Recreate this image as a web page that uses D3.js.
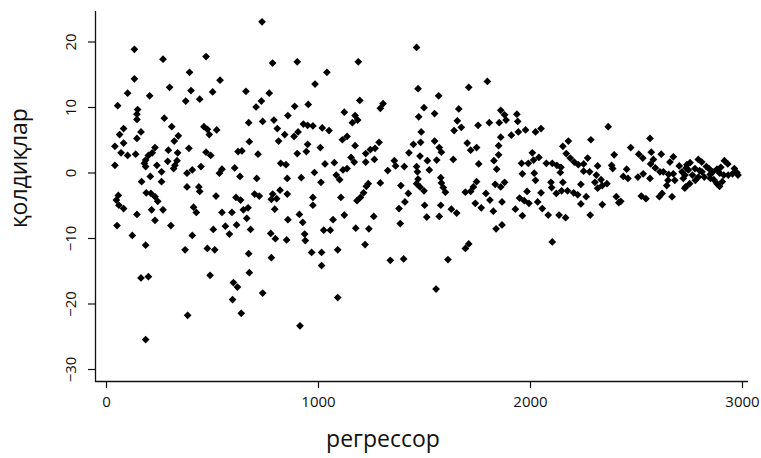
<!DOCTYPE html>
<html>
<head>
<meta charset="utf-8">
<script src="https://cdn.jsdelivr.net/npm/d3@7"></script>
<style>
  body { margin: 0; background: #fff; }
  text { font-family: "Open Sans", sans-serif; fill: #111; }
</style>
</head>
<body>
<div id="chart"></div>
<script>
// [regressor, residual]
var residualPoints = [
  [134,18.8],[269,17.3],[134,14.3],[394,15.3],[300,13.0],[102,12.1],[206,11.7],[401,12.5],[376,10.9],[442,11.2],
  [55,10.2],[149,9.6],[146,8.9],[146,8.1],[275,8.3],[83,6.7],[64,5.8],[165,6.2],[310,7.0],[146,5.2],
  [322,4.8],[341,5.6],[42,4.0],[83,4.5],[71,3.0],[102,2.6],[140,2.8],[231,3.8],[218,3.0],[200,2.6],
  [187,1.9],[294,3.4],[338,3.0],[391,3.7],[42,1.1],[181,1.4],[187,0.9],[240,1.1],[262,0.1],[291,1.7],
  [335,1.8],[325,1.1],[319,0.6],[382,-0.1],[407,0.4],[448,0.9],[168,-1.4],[209,-0.6],[262,-1.4],[382,-2.2],
  [438,-2.2],[442,-2.9],[58,-3.5],[49,-4.2],[61,-5.0],[83,-5.5],[190,-3.1],[212,-3.2],[231,-3.7],[244,-4.4],
  [146,-6.4],[215,-5.7],[269,-5.7],[231,-7.3],[52,-8.1],[306,-8.1],[413,-5.3],[426,-6.1],[124,-9.6],[407,-9.6],
  [187,-11.1],[373,-11.8],[165,-16.1],[200,-15.9],[385,-21.8],[187,-25.5],

  [736,23.0],[472,17.7],[786,16.7],[902,16.9],[538,14.1],[503,12.3],[660,12.4],[770,12.1],[708,10.0],[733,10.9],
  [890,10.1],[858,8.7],[673,7.6],[739,7.8],[792,8.0],[462,7.0],[478,6.6],[487,5.8],[522,6.5],[808,6.7],
  [814,4.8],[843,5.8],[887,5.5],[906,6.2],[931,7.4],[676,4.7],[472,3.1],[494,2.6],[623,3.2],[641,3.3],
  [717,2.8],[902,2.9],[535,-0.1],[547,0.5],[607,0.7],[632,-0.6],[711,-0.9],[824,1.4],[849,1.2],[855,-0.9],
  [921,-0.8],[519,-3.6],[613,-3.8],[635,-4.2],[701,-3.3],[723,-3.6],[786,-3.3],[780,-4.1],[805,-4.0],[821,-2.7],
  [855,-3.3],[648,-5.7],[670,-5.4],[547,-6.1],[594,-6.1],[664,-7.0],[563,-8.2],[616,-8.0],[506,-8.7],[582,-9.4],
  [682,-8.7],[796,-5.6],[858,-7.2],[912,-6.4],[928,-7.6],[937,-9.4],[940,-10.4],[777,-9.3],[799,-10.1],[852,-10.3],
  [478,-11.6],[513,-11.8],[673,-12.4],[780,-13.0],[491,-15.7],[676,-15.3],[601,-16.8],[620,-17.5],[597,-19.4],[739,-18.4],
  [638,-21.5],[915,-23.4],

  [1190,16.9],[1042,15.3],[986,13.5],[954,10.4],[1197,11.0],[1307,10.5],[1294,9.8],[1124,9.2],[1175,8.7],[1187,8.0],
  [1162,7.6],[951,7.2],[976,7.1],[1020,6.8],[1052,6.4],[951,4.3],[945,3.2],[1011,3.8],[1115,5.0],[1137,5.5],
  [1175,4.1],[1225,2.9],[1247,3.5],[1269,3.7],[1266,2.0],[1288,4.6],[1156,2.3],[1171,1.6],[1033,1.3],[1077,1.5],
  [1118,0.4],[1137,0.6],[983,0.0],[1086,-0.4],[1102,-1.1],[1014,-1.5],[1225,1.6],[1329,0.3],[1360,1.8],[1366,1.0],
  [1407,0.9],[1429,3.0],[1237,-1.7],[1294,-1.6],[1391,-2.0],[1426,-3.2],[1228,-2.1],[1215,-3.1],[1200,-3.8],[1184,-4.3],
  [976,-3.8],[976,-5.0],[1108,-3.8],[1410,-4.5],[1382,-5.5],[1124,-6.5],[1263,-6.7],[1071,-7.2],[1388,-7.8],[1027,-8.8],
  [1058,-8.8],[1178,-8.5],[1240,-8.6],[1222,-11.0],[970,-12.2],[1017,-12.2],[1093,-11.8],[1017,-14.2],[1341,-13.4],[1404,-13.2],
  [1093,-19.1],

  [1465,19.1],[1472,12.8],[1569,11.7],[1711,13.0],[1799,13.9],[1500,9.9],[1475,8.5],[1550,9.0],[1664,9.7],[1657,7.9],
  [1642,6.4],[1676,6.9],[1755,7.2],[1808,7.6],[1862,9.5],[1880,8.8],[1887,8.0],[1855,7.6],[1912,5.7],[1487,6.2],
  [1484,4.6],[1450,4.3],[1550,4.8],[1572,3.8],[1582,3.1],[1481,2.5],[1516,1.8],[1560,1.9],[1638,2.0],[1704,4.5],
  [1720,3.4],[1748,3.8],[1758,1.3],[1862,5.4],[1852,4.1],[1852,2.7],[1830,1.8],[1843,0.5],[1465,0.9],[1469,0.1],
  [1472,-1.0],[1465,-1.7],[1525,0.4],[1481,-2.2],[1500,-2.8],[1579,-0.8],[1582,-1.6],[1591,-2.3],[1601,-3.0],[1748,-1.4],
  [1733,-2.2],[1695,-3.0],[1720,-2.9],[1836,-1.8],[1862,-2.2],[1880,-1.5],[1792,-3.2],[1503,-5.0],[1579,-5.0],[1629,-5.6],
  [1654,-6.2],[1742,-4.7],[1770,-5.4],[1811,-4.2],[1827,-5.9],[1868,-4.5],[1513,-6.8],[1572,-6.7],[1931,-5.6],[1840,-8.6],
  [1868,-8.0],[1695,-11.6],[1711,-10.9],[1613,-13.3],[1557,-17.8],

  [1938,8.9],[1942,7.8],[1945,6.2],[1979,6.5],[2026,6.2],[2052,6.7],[2369,7.0],[2155,4.0],[2181,4.8],[2287,5.0],
  [2171,2.9],[2190,2.2],[2209,1.6],[2228,1.2],[2253,1.3],[2272,2.2],[2319,1.0],[2397,2.7],[2385,1.1],[2011,3.0],
  [1960,1.4],[1992,1.4],[2017,1.9],[2042,2.3],[2077,1.4],[2105,1.4],[2127,1.1],[2146,0.8],[2143,0.0],[1964,-0.2],
  [2020,-0.1],[2026,-1.2],[2099,-1.5],[2102,-2.3],[2155,-1.5],[2253,0.2],[2281,0.1],[2240,-1.8],[1986,-2.9],[2052,-3.1],
  [1951,-3.9],[1973,-4.3],[1995,-4.7],[2036,-4.5],[2124,-3.2],[2149,-2.8],[2177,-2.8],[2206,-3.1],[2225,-3.4],[2265,-3.7],
  [2240,-4.8],[2313,-0.4],[2335,-1.1],[2306,-1.5],[2341,-2.0],[2363,-1.7],[2319,-2.4],[2341,-4.9],[2407,-3.7],[2419,-4.6],
  [2058,-5.5],[2086,-6.5],[1964,-6.6],[2137,-6.5],[2168,-6.9],[2284,-6.5],[2105,-10.6],[2390,0.6],

  [2566,5.2],[2475,3.8],[2513,2.8],[2532,2.2],[2572,3.1],[2582,2.0],[2619,2.8],[2676,2.4],[2660,1.6],[2569,1.3],
  [2591,0.7],[2613,0.1],[2456,0.5],[2440,-0.6],[2462,-0.9],[2509,-0.7],[2534,-0.2],[2566,-0.9],[2704,1.0],[2717,0.1],
  [2629,0.1],[2654,-0.3],[2676,-0.2],[2651,-1.2],[2683,-1.2],[2645,-2.0],[2723,-0.9],[2730,-2.4],[2623,-3.2],[2610,-3.7],
  [2670,-3.7],[2525,-3.6],[2547,-4.0],[2428,-4.4],
  [2794,2.0],[2810,1.6],[2917,1.8],[2933,1.3],[2964,0.6],[2976,0.0],[2832,0.9],[2844,0.6],[2863,0.1],[2882,0.5],
  [2895,-0.1],[2914,-0.4],[2935,-0.4],[2737,0.7],[2747,0.4],[2778,0.6],[2800,0.3],[2766,-0.4],[2794,-0.7],[2822,-0.7],
  [2753,-1.7],[2734,-2.2],[2882,-1.7],[2894,-2.1],[2907,-1.4],[2851,-0.9],[2867,-1.1],[2731,-0.4],[2811,0.1],[2755,1.5],
  [2981,-0.4],[2850,-0.3],[2780,-1.2],[2740,1.2],[2900,0.8],[2955,-0.2]
];

var xTicks = [0, 1000, 2000, 3000];
var yTicks = [-30, -20, -10, 0, 10, 20];
var xTitle = "регрессор";
var yTitle = "қолдиқлар";

var width = 761,
    height = 458,
    axisLeftX = 95,
    axisBottomY = 381;

var x = d3.scaleLinear().domain([0, 3000]).range([106, 742]);
var y = d3.scaleLinear().domain([-30, 20]).range([369, 41.5]);

var svg = d3.select("#chart").append("svg")
    .attr("width", width)
    .attr("height", height);

// axes, R style "L" box
var xAxis = d3.axisBottom(x).tickValues(xTicks).tickSize(7).tickFormat(d3.format("d"));
var gx = svg.append("g")
    .attr("transform", "translate(0," + axisBottomY + ")")
    .call(xAxis);
gx.select(".domain").remove();
gx.selectAll(".tick line").attr("stroke", "#111").attr("stroke-width", 1.2);
gx.selectAll(".tick text")
    .attr("y", 15)
    .attr("dy", "0.71em")
    .style("font-size", "15px")
    .style("font-family", "'Open Sans', sans-serif");

var yAxis = d3.axisLeft(y).tickValues(yTicks).tickSize(7);
var gy = svg.append("g")
    .attr("transform", "translate(" + axisLeftX + ",0)")
    .call(yAxis);
gy.select(".domain").remove();
gy.selectAll(".tick line").attr("stroke", "#111").attr("stroke-width", 1.2);
gy.selectAll(".tick text")
    .attr("transform", "rotate(-90)")
    .attr("x", 0)
    .attr("y", -19)
    .attr("dy", 0)
    .attr("text-anchor", "middle")
    .style("font-size", "15px")
    .style("font-family", "'Open Sans', sans-serif");

svg.append("path")
    .attr("d", "M" + (axisLeftX + 0.5) + ",11V" + (axisBottomY + 0.5) + "H748")
    .attr("fill", "none")
    .attr("stroke", "#111")
    .attr("stroke-width", 1.3);

// points
var diamond = d3.symbol().type(d3.symbolSquare).size(30);
svg.append("g")
    .selectAll("path")
    .data(residualPoints)
    .enter().append("path")
    .attr("d", diamond)
    .attr("transform", function (d) {
        return "translate(" + x(d[0]) + "," + y(d[1]) + ") rotate(45)";
    })
    .attr("fill", "#000");

// titles
svg.append("text")
    .attr("x", 383)
    .attr("y", 447)
    .attr("text-anchor", "middle")
    .style("font-size", "23px")
    .text(xTitle);

svg.append("text")
    .attr("transform", "translate(27,168) rotate(-90)")
    .attr("text-anchor", "middle")
    .style("font-size", "23px")
    .text(yTitle);
</script>
</body>
</html>
